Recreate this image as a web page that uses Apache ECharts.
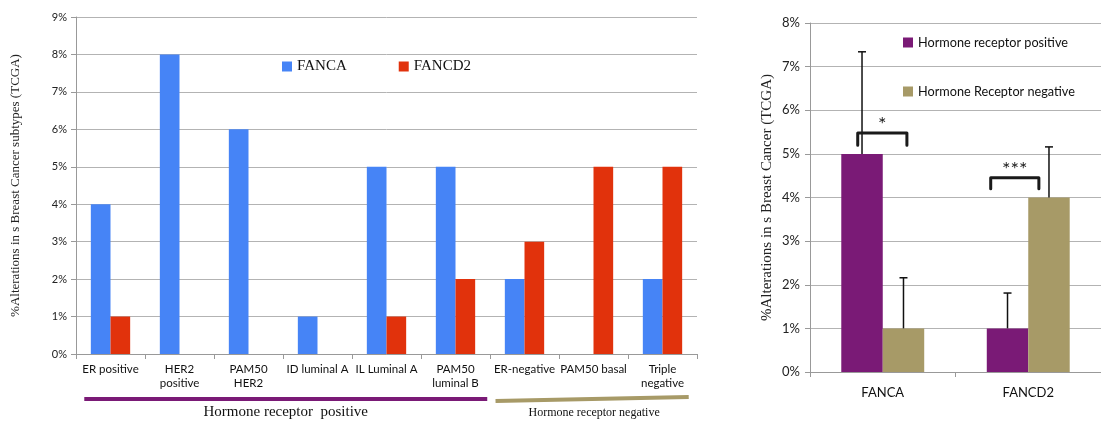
<!DOCTYPE html>
<html>
<head>
<meta charset="utf-8">
<script src="https://cdn.jsdelivr.net/npm/echarts@6/dist/echarts.min.js"></script>
<style>html,body{margin:0;padding:0;background:#fff}#c{width:1101px;height:422px}</style>
</head>
<body>
<div id="c"></div>
<script>
// ---- Left chart data ----
var subtypes = ['ER positive', 'HER2\npositive', 'PAM50\nHER2', 'ID luminal A', 'IL Luminal A', 'PAM50\nluminal B', 'ER-negative', 'PAM50 basal', 'Triple\nnegative'];
var fancaSubtype = [4, 8, 6, 1, 5, 5, 2, 0, 2];
var fancd2Subtype = [1, 0, 0, 0, 1, 2, 3, 5, 5];
var leftTicks = [0, 1, 2, 3, 4, 5, 6, 7, 8, 9];
var groupNames = ['Hormone receptor  positive', 'Hormone receptor negative'];
var groupRanges = [[0, 5], [6, 8]];

// ---- Right chart data ----
var genes = ['FANCA', 'FANCD2'];
var hrPositive = [5, 1];
var hrNegative = [1, 4];
var hrPositiveUpper = [7.34, 1.81];
var hrNegativeUpper = [2.16, 5.16];
var sigLabels = ['*', '***'];
var sigTop = [5.48, 4.45];
var sigEnd = [5.2, 4.2];
var sigFrom = [-0.172, -0.258];
var sigTo = [0.166, 0.073];

var BLUE = '#4684F6', RED = '#E1320C', PURPLE = '#7A1A76', GOLD = '#A79A67';
var SANS = 'Lato, "Open Sans", sans-serif';
var SERIF = '"Liberation Serif", "DejaVu Serif", serif';

var chart = echarts.init(document.getElementById('c'));

function errRender(offFrac) {
  return function (params, api) {
    var idx = api.value(0);
    var base = api.coord([idx, api.value(1)]);
    var top = api.coord([idx, api.value(2)]);
    var band = api.size([1, 0])[0];
    var x = base[0] + offFrac * band;
    return {
      type: 'group',
      children: [
        {type: 'line', shape: {x1: x, y1: base[1], x2: x, y2: top[1]}, style: {stroke: '#111', lineWidth: 1.5}},
        {type: 'line', shape: {x1: x - 4, y1: top[1], x2: x + 4, y2: top[1]}, style: {stroke: '#111', lineWidth: 1.5}}
      ]
    };
  };
}

var option = {
  animation: false,
  grid: [
    {left: 76, right: 404, top: 17, bottom: 68},
    {left: 810, right: -11, top: 23, bottom: 50}
  ],
  legend: [
    {
      data: ['FANCA', 'FANCD2'], left: 277, top: 54, itemWidth: 10, itemHeight: 10, itemGap: 52,
      icon: 'rect', textStyle: {fontFamily: SERIF, fontSize: 15, color: '#111'}
    },
    {
      data: ['Hormone receptor positive', 'Hormone Receptor negative'], left: 898, top: 31, orient: 'vertical',
      itemWidth: 10, itemHeight: 10, itemGap: 36, icon: 'rect',
      textStyle: {fontFamily: SANS, fontSize: 12.7, color: '#111'}
    }
  ],
  xAxis: [
    {
      type: 'category', gridIndex: 0, data: subtypes,
      axisLine: {lineStyle: {color: '#999'}},
      axisTick: {show: true, length: 5, lineStyle: {color: '#999'}},
      axisLabel: {interval: 0, color: '#111', fontFamily: SANS, fontSize: 11.5, lineHeight: 14, margin: 8}
    },
    {
      type: 'category', gridIndex: 1, data: genes,
      axisLine: {lineStyle: {color: '#999'}},
      axisTick: {show: true, length: 5, lineStyle: {color: '#999'}},
      axisLabel: {interval: 0, color: '#111', fontFamily: SANS, fontSize: 13, margin: 14}
    }
  ],
  yAxis: [
    {
      type: 'value', gridIndex: 0, min: leftTicks[0], max: leftTicks[leftTicks.length - 1], interval: 1,
      name: '%Alterations in s Breast Cancer subtypes (TCGA)', nameLocation: 'middle', nameGap: 54,
      nameTextStyle: {fontFamily: SERIF, fontSize: 13, color: '#222'},
      axisLine: {show: true, lineStyle: {color: '#999'}},
      axisTick: {show: true, length: 5, lineStyle: {color: '#999'}},
      axisLabel: {formatter: '{value}%', color: '#222', fontFamily: SANS, fontSize: 11, margin: 9},
      splitLine: {lineStyle: {color: '#b3b3b3'}}
    },
    {
      type: 'value', gridIndex: 1, min: 0, max: 8, interval: 1,
      name: '%Alterations in s Breast Cancer (TCGA)', nameLocation: 'middle', nameGap: 35,
      nameTextStyle: {fontFamily: SERIF, fontSize: 15, color: '#222'},
      axisLine: {show: true, lineStyle: {color: '#999'}},
      axisTick: {show: true, length: 5, lineStyle: {color: '#999'}},
      axisLabel: {formatter: '{value}%', color: '#222', fontFamily: SANS, fontSize: 13, margin: 10},
      splitLine: {lineStyle: {color: '#b3b3b3'}}
    }
  ],
  series: [
    {name: 'FANCA', type: 'bar', xAxisIndex: 0, yAxisIndex: 0, data: fancaSubtype, barGap: '0%', barCategoryGap: '43%', itemStyle: {color: BLUE}},
    {name: 'FANCD2', type: 'bar', xAxisIndex: 0, yAxisIndex: 0, data: fancd2Subtype, barGap: '0%', barCategoryGap: '43%', itemStyle: {color: RED}},
    {name: 'Hormone receptor positive', type: 'bar', xAxisIndex: 1, yAxisIndex: 1, data: hrPositive, barGap: '0%', barCategoryGap: '43%', itemStyle: {color: PURPLE}},
    {name: 'Hormone Receptor negative', type: 'bar', xAxisIndex: 1, yAxisIndex: 1, data: hrNegative, barGap: '0%', barCategoryGap: '43%', itemStyle: {color: GOLD}},
    {
      type: 'custom', xAxisIndex: 1, yAxisIndex: 1, z: 5, silent: true,
      data: hrPositive.map(function (v, i) { return [i, v, hrPositiveUpper[i]]; }),
      renderItem: errRender(-0.1425)
    },
    {
      type: 'custom', xAxisIndex: 1, yAxisIndex: 1, z: 5, silent: true,
      data: hrNegative.map(function (v, i) { return [i, v, hrNegativeUpper[i]]; }),
      renderItem: errRender(0.1425)
    },
    {
      type: 'custom', xAxisIndex: 1, yAxisIndex: 1, z: 6, silent: true,
      data: genes.map(function (g, i) { return [i, sigTop[i], sigEnd[i], sigFrom[i], sigTo[i]]; }),
      renderItem: function (params, api) {
        var i = api.value(0);
        var c = api.coord([i, api.value(1)]);
        var e = api.coord([i, api.value(2)]);
        var band = api.size([1, 0])[0];
        var x1 = c[0] + api.value(3) * band, x2 = c[0] + api.value(4) * band;
        return {
          type: 'group',
          children: [
            {type: 'polyline', shape: {points: [[x1, e[1]], [x1, c[1]], [x2, c[1]], [x2, e[1]]]},
             style: {stroke: '#1a1a1a', lineWidth: 3, fill: null, lineJoin: 'round', lineCap: 'round'}},
            {type: 'text', x: (x1 + x2) / 2, y: c[1] + 2,
             style: {text: sigLabels[i], fill: '#222', font: '20px ' + SANS, align: 'center', verticalAlign: 'bottom'}}
          ]
        };
      }
    }
  ]
};
chart.setOption(option);

// group indicator lines beneath the left chart, positioned from the category axis
function px(i) { return chart.convertToPixel({xAxisIndex: 0}, i); }
var band = px(1) - px(0);
var pStart = px(groupRanges[0][0]) - 0.38 * band, pEnd = px(groupRanges[0][1]) + 0.46 * band;
var nStart = px(groupRanges[1][0]) - 0.42 * band, nEnd = px(groupRanges[1][1]) + 0.38 * band;
chart.setOption({
  graphic: [
    {type: 'line', shape: {x1: pStart, y1: 399, x2: pEnd, y2: 399}, style: {stroke: PURPLE, lineWidth: 4}},
    {type: 'line', shape: {x1: nStart, y1: 401, x2: nEnd, y2: 397}, style: {stroke: GOLD, lineWidth: 4}},
    {type: 'text', x: (pStart + pEnd) / 2, y: 412, style: {text: groupNames[0], fill: '#111', font: '15px ' + SERIF, align: 'center', verticalAlign: 'middle'}},
    {type: 'text', x: (nStart + nEnd) / 2 + 2, y: 413, style: {text: groupNames[1], fill: '#111', font: '12px ' + SERIF, align: 'center', verticalAlign: 'middle'}}
  ]
});
</script>
</body>
</html>
